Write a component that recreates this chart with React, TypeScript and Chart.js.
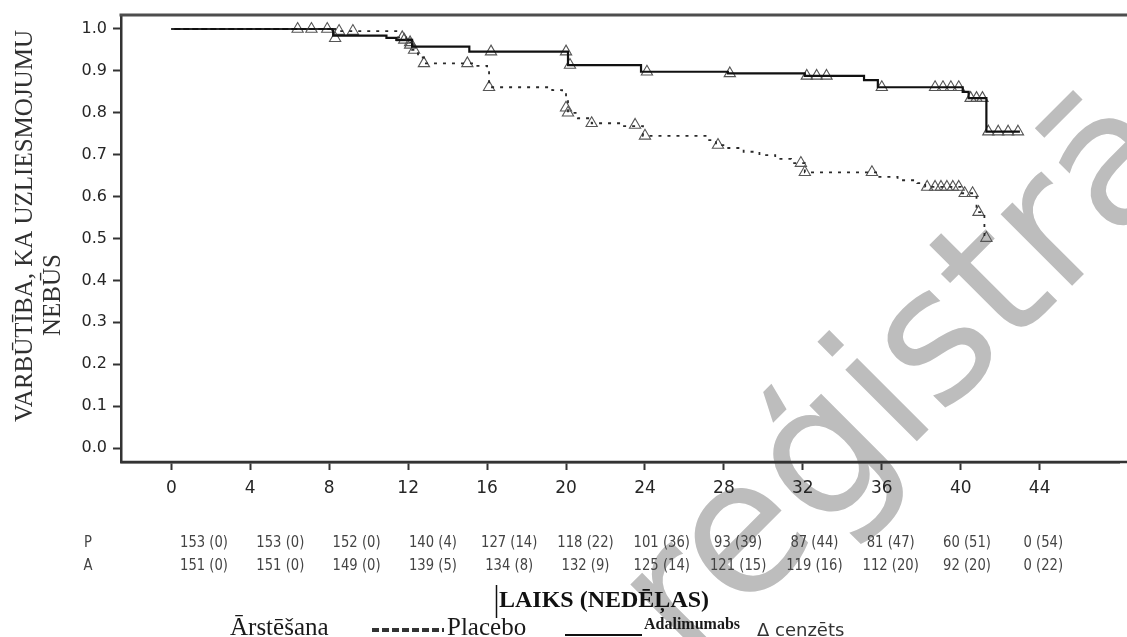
import React, { useEffect, useRef } from 'react';
import { Chart, registerables } from 'chart.js';

Chart.register(...registerables);

// ---------- data ----------
const weekTicks = [0, 4, 8, 12, 16, 20, 24, 28, 32, 36, 40, 44];
const probTicks = [0, 0.1, 0.2, 0.3, 0.4, 0.5, 0.6, 0.7, 0.8, 0.9, 1.0];

// Kaplan-Meier steps: [week, survival after the event]
const placeboSteps: [number, number][] = [
  [0, 1.0], [8.3, 0.995], [11.4, 0.98], [11.9, 0.968], [12.2, 0.95], [12.5, 0.932],
  [12.8, 0.918], [15.4, 0.912], [16.0, 0.902], [16.1, 0.861], [19.3, 0.854],
  [19.8, 0.847], [20.0, 0.835], [20.1, 0.8], [20.6, 0.787], [21.3, 0.775],
  [22.8, 0.768], [23.9, 0.745], [27.2, 0.735], [27.6, 0.723], [28.1, 0.716],
  [29.0, 0.707], [29.8, 0.699], [30.6, 0.69], [31.4, 0.68], [32.1, 0.658],
  [35.8, 0.647], [36.8, 0.639], [37.8, 0.632], [38.2, 0.623], [40.0, 0.608],
  [40.8, 0.563], [41.2, 0.501], [41.3, 0.501],
];
const adalimumabSteps: [number, number][] = [
  [0, 1.0], [8.2, 0.984], [10.9, 0.979], [11.4, 0.974], [12.2, 0.958], [15.1, 0.946],
  [20.1, 0.914], [23.8, 0.898], [28.2, 0.894], [32.1, 0.888], [35.1, 0.878],
  [35.8, 0.861], [40.1, 0.85], [40.4, 0.835], [41.3, 0.755], [43.0, 0.755],
];
const placeboCensored: [number, number][] = [
  [6.4, 1.0], [7.1, 1.0], [8.5, 0.995], [9.2, 0.995], [11.7, 0.98], [12.1, 0.962],
  [12.3, 0.95], [12.8, 0.918], [15.0, 0.918], [16.1, 0.861], [20.0, 0.812],
  [20.1, 0.8], [21.3, 0.775], [23.5, 0.771], [24.0, 0.745], [27.7, 0.723],
  [31.9, 0.68], [32.1, 0.658], [35.5, 0.658], [38.3, 0.623], [38.7, 0.623],
  [39.0, 0.623], [39.3, 0.623], [39.6, 0.623], [39.9, 0.623], [40.2, 0.608],
  [40.6, 0.608], [40.9, 0.563], [41.3, 0.501],
];
const adalimumabCensored: [number, number][] = [
  [7.9, 1.0], [8.3, 0.978], [11.8, 0.974], [12.1, 0.968], [16.2, 0.946], [20.0, 0.946],
  [20.2, 0.914], [24.1, 0.898], [28.3, 0.894], [32.2, 0.888], [32.7, 0.888],
  [33.2, 0.888], [36.0, 0.861], [38.7, 0.861], [39.1, 0.861], [39.5, 0.861],
  [39.9, 0.861], [40.5, 0.835], [40.8, 0.835], [41.1, 0.835], [41.4, 0.755],
  [41.9, 0.755], [42.4, 0.755], [42.9, 0.755],
];

const riskRowLabels = ['P', 'A'];
const riskPlacebo = ['153 (0)', '153 (0)', '152 (0)', '140 (4)', '127 (14)', '118 (22)', '101 (36)', '93 (39)', '87 (44)', '81 (47)', '60 (51)', '0 (54)'];
const riskAdalimumab = ['151 (0)', '151 (0)', '149 (0)', '139 (5)', '134 (8)', '132 (9)', '125 (14)', '121 (15)', '119 (16)', '112 (20)', '92 (20)', '0 (22)'];

const yTitle1 = 'VARBŪTĪBA, KA UZLIESMOJUMU';
const yTitle2 = 'NEBŪS';
const xTitle = 'LAIKS (NEDĒĻAS)';
const legendTitle = 'Ārstēšana';
const placeboLabel = 'Placebo';
const adalimumabLabel = 'Adalimumabs';
const censoredLabel = 'Δ cenzēts';
const watermarkText = 'reģistrācija';

const toXY = (arr: [number, number][]) => arr.map(([x, y]) => ({ x, y }));

// ---------- decorations ----------
const decor = {
  id: 'decor',
  beforeDraw(chart: any) {
    const ctx = chart.ctx as CanvasRenderingContext2D;
    ctx.save();
    ctx.fillStyle = '#ffffff';
    ctx.fillRect(0, 0, chart.width, chart.height);
    ctx.translate(690, 668);
    ctx.rotate((-45 * Math.PI) / 180);
    ctx.font = '185px "DejaVu Sans"';
    ctx.fillStyle = '#bdbdbd';
    ctx.textBaseline = 'alphabetic';
    ctx.textAlign = 'left';
    ctx.fillText(watermarkText, 0, 0);
    ctx.restore();
  },
  afterDraw(chart: any) {
    const ctx = chart.ctx as CanvasRenderingContext2D;
    const ca = chart.chartArea;
    ctx.save();
    // top frame line
    ctx.strokeStyle = '#4d4d4d';
    ctx.lineWidth = 3;
    ctx.beginPath();
    ctx.moveTo(ca.left - 1.5, ca.top);
    ctx.lineTo(chart.width, ca.top);
    ctx.stroke();
    // bottom axis continues to the page edge
    ctx.strokeStyle = '#333';
    ctx.lineWidth = 2.5;
    ctx.beginPath();
    ctx.moveTo(ca.left, ca.bottom);
    ctx.lineTo(chart.width, ca.bottom);
    ctx.stroke();

    // y axis title
    ctx.fillStyle = '#303030';
    ctx.font = '25px "Liberation Serif"';
    ctx.textAlign = 'center';
    ctx.textBaseline = 'alphabetic';
    ctx.save();
    ctx.translate(32, 226);
    ctx.rotate(-Math.PI / 2);
    ctx.fillText(yTitle1, 0, 0);
    ctx.restore();
    ctx.save();
    ctx.translate(60, 295);
    ctx.rotate(-Math.PI / 2);
    ctx.fillText(yTitle2, 0, 0);
    ctx.restore();

    // number-at-risk table
    ctx.font = '15px "DejaVu Sans"';
    const sx = 48 / ctx.measureText('153 (0)').width;
    ctx.fillStyle = '#444';
    ctx.textBaseline = 'middle';
    const rows = [riskPlacebo, riskAdalimumab];
    const rowY = [543, 566];
    rows.forEach((row, r) => {
      ctx.save();
      ctx.translate(88, rowY[r]);
      ctx.scale(sx, 1);
      ctx.textAlign = 'center';
      ctx.fillText(riskRowLabels[r], 0, 0);
      ctx.restore();
      row.forEach((t, i) => {
        ctx.save();
        ctx.translate(204 + 76.3 * i, rowY[r]);
        ctx.scale(sx, 1);
        ctx.textAlign = 'center';
        ctx.fillText(t, 0, 0);
        ctx.restore();
      });
    });

    // x axis title
    ctx.fillStyle = '#111';
    ctx.textBaseline = 'alphabetic';
    ctx.textAlign = 'left';
    ctx.font = 'bold 24px "Liberation Serif"';
    ctx.fillText(xTitle, 499, 607);
    ctx.strokeStyle = '#111';
    ctx.lineWidth = 1.5;
    ctx.beginPath();
    ctx.moveTo(496.5, 585);
    ctx.lineTo(496.5, 618);
    ctx.stroke();

    // legend row
    ctx.font = '25px "Liberation Serif"';
    ctx.fillStyle = '#1a1a1a';
    ctx.fillText(legendTitle, 230, 635);
    ctx.strokeStyle = '#333';
    ctx.lineWidth = 4;
    ctx.setLineDash([7, 3]);
    ctx.beginPath();
    ctx.moveTo(372, 630);
    ctx.lineTo(444, 630);
    ctx.stroke();
    ctx.setLineDash([]);
    ctx.fillText(placeboLabel, 447, 635);
    ctx.strokeStyle = '#111';
    ctx.lineWidth = 2;
    ctx.beginPath();
    ctx.moveTo(565, 635);
    ctx.lineTo(642, 635);
    ctx.stroke();
    ctx.font = 'bold 16px "Liberation Serif"';
    ctx.fillText(adalimumabLabel, 644, 629);
    ctx.font = '18px "DejaVu Sans"';
    ctx.fillStyle = '#333';
    ctx.fillText(censoredLabel, 757, 636);
    ctx.restore();
  },
};

export default function App() {
  const ref = useRef<HTMLCanvasElement>(null);

  useEffect(() => {
    if (!ref.current) return;
    const censorStyle = {
      showLine: false,
      pointStyle: 'triangle' as const,
      pointRadius: 6.5,
      pointBorderWidth: 1.1,
      pointBorderColor: '#555',
      pointBackgroundColor: 'rgba(0,0,0,0)',
    };
    const chart = new Chart(ref.current, {
      type: 'scatter',
      data: {
        datasets: [
          {
            label: placeboLabel,
            data: toXY(placeboSteps),
            showLine: true,
            stepped: true,
            borderColor: '#2a2a2a',
            borderWidth: 1.8,
            borderDash: [3, 6],
            pointRadius: 0,
            fill: false,
          },
          {
            label: adalimumabLabel,
            data: toXY(adalimumabSteps),
            showLine: true,
            stepped: true,
            borderColor: '#111',
            borderWidth: 2.2,
            pointRadius: 0,
            fill: false,
          },
          { label: 'P cenzēts', data: toXY(placeboCensored), ...censorStyle },
          { label: 'A cenzēts', data: toXY(adalimumabCensored), ...censorStyle },
        ],
      } as any,
      options: {
        animation: false,
        responsive: false,
        devicePixelRatio: 1,
        layout: { padding: { top: 15, right: 0, bottom: 0, left: 0 } },
        plugins: { legend: { display: false }, tooltip: { enabled: false } },
        scales: {
          x: {
            type: 'linear',
            min: -2.55,
            max: 48.04,
            afterBuildTicks: (s: any) => {
              s.ticks = weekTicks.map((v) => ({ value: v }));
            },
            afterFit: (s: any) => {
              s.height = 175;
              s.paddingLeft = 0;
              s.paddingRight = 0;
            },
            grid: {
              display: true,
              drawOnChartArea: false,
              drawTicks: true,
              tickLength: 8,
              tickWidth: 2,
              tickColor: '#333',
            },
            border: { display: true, color: '#333', width: 2.5 },
            ticks: {
              autoSkip: false,
              maxRotation: 0,
              padding: 8,
              color: '#262626',
              font: { family: 'DejaVu Sans', size: 17 },
              callback: (v: any) => String(v),
            },
          },
          y: {
            type: 'linear',
            min: -0.0334,
            max: 1.0334,
            afterBuildTicks: (s: any) => {
              s.ticks = probTicks.map((v) => ({ value: v }));
            },
            afterFit: (s: any) => {
              s.width = 121;
              s.paddingTop = 0;
              s.paddingBottom = 0;
            },
            grid: {
              display: true,
              drawOnChartArea: false,
              drawTicks: true,
              tickLength: 8,
              tickWidth: 2,
              tickColor: '#333',
            },
            border: { display: true, color: '#333', width: 2.5 },
            ticks: {
              padding: 6,
              color: '#262626',
              font: { family: 'DejaVu Sans', size: 16 },
              callback: (v: any) => Number(v).toFixed(1),
            },
          },
        },
      } as any,
      plugins: [decor],
    });
    return () => chart.destroy();
  }, []);

  return (
    <div style={{ position: 'fixed', left: 0, top: 0, width: 1127, height: 637, background: '#fff' }}>
      <canvas ref={ref} width={1127} height={637} style={{ display: 'block', width: 1127, height: 637 }} />
    </div>
  );
}
